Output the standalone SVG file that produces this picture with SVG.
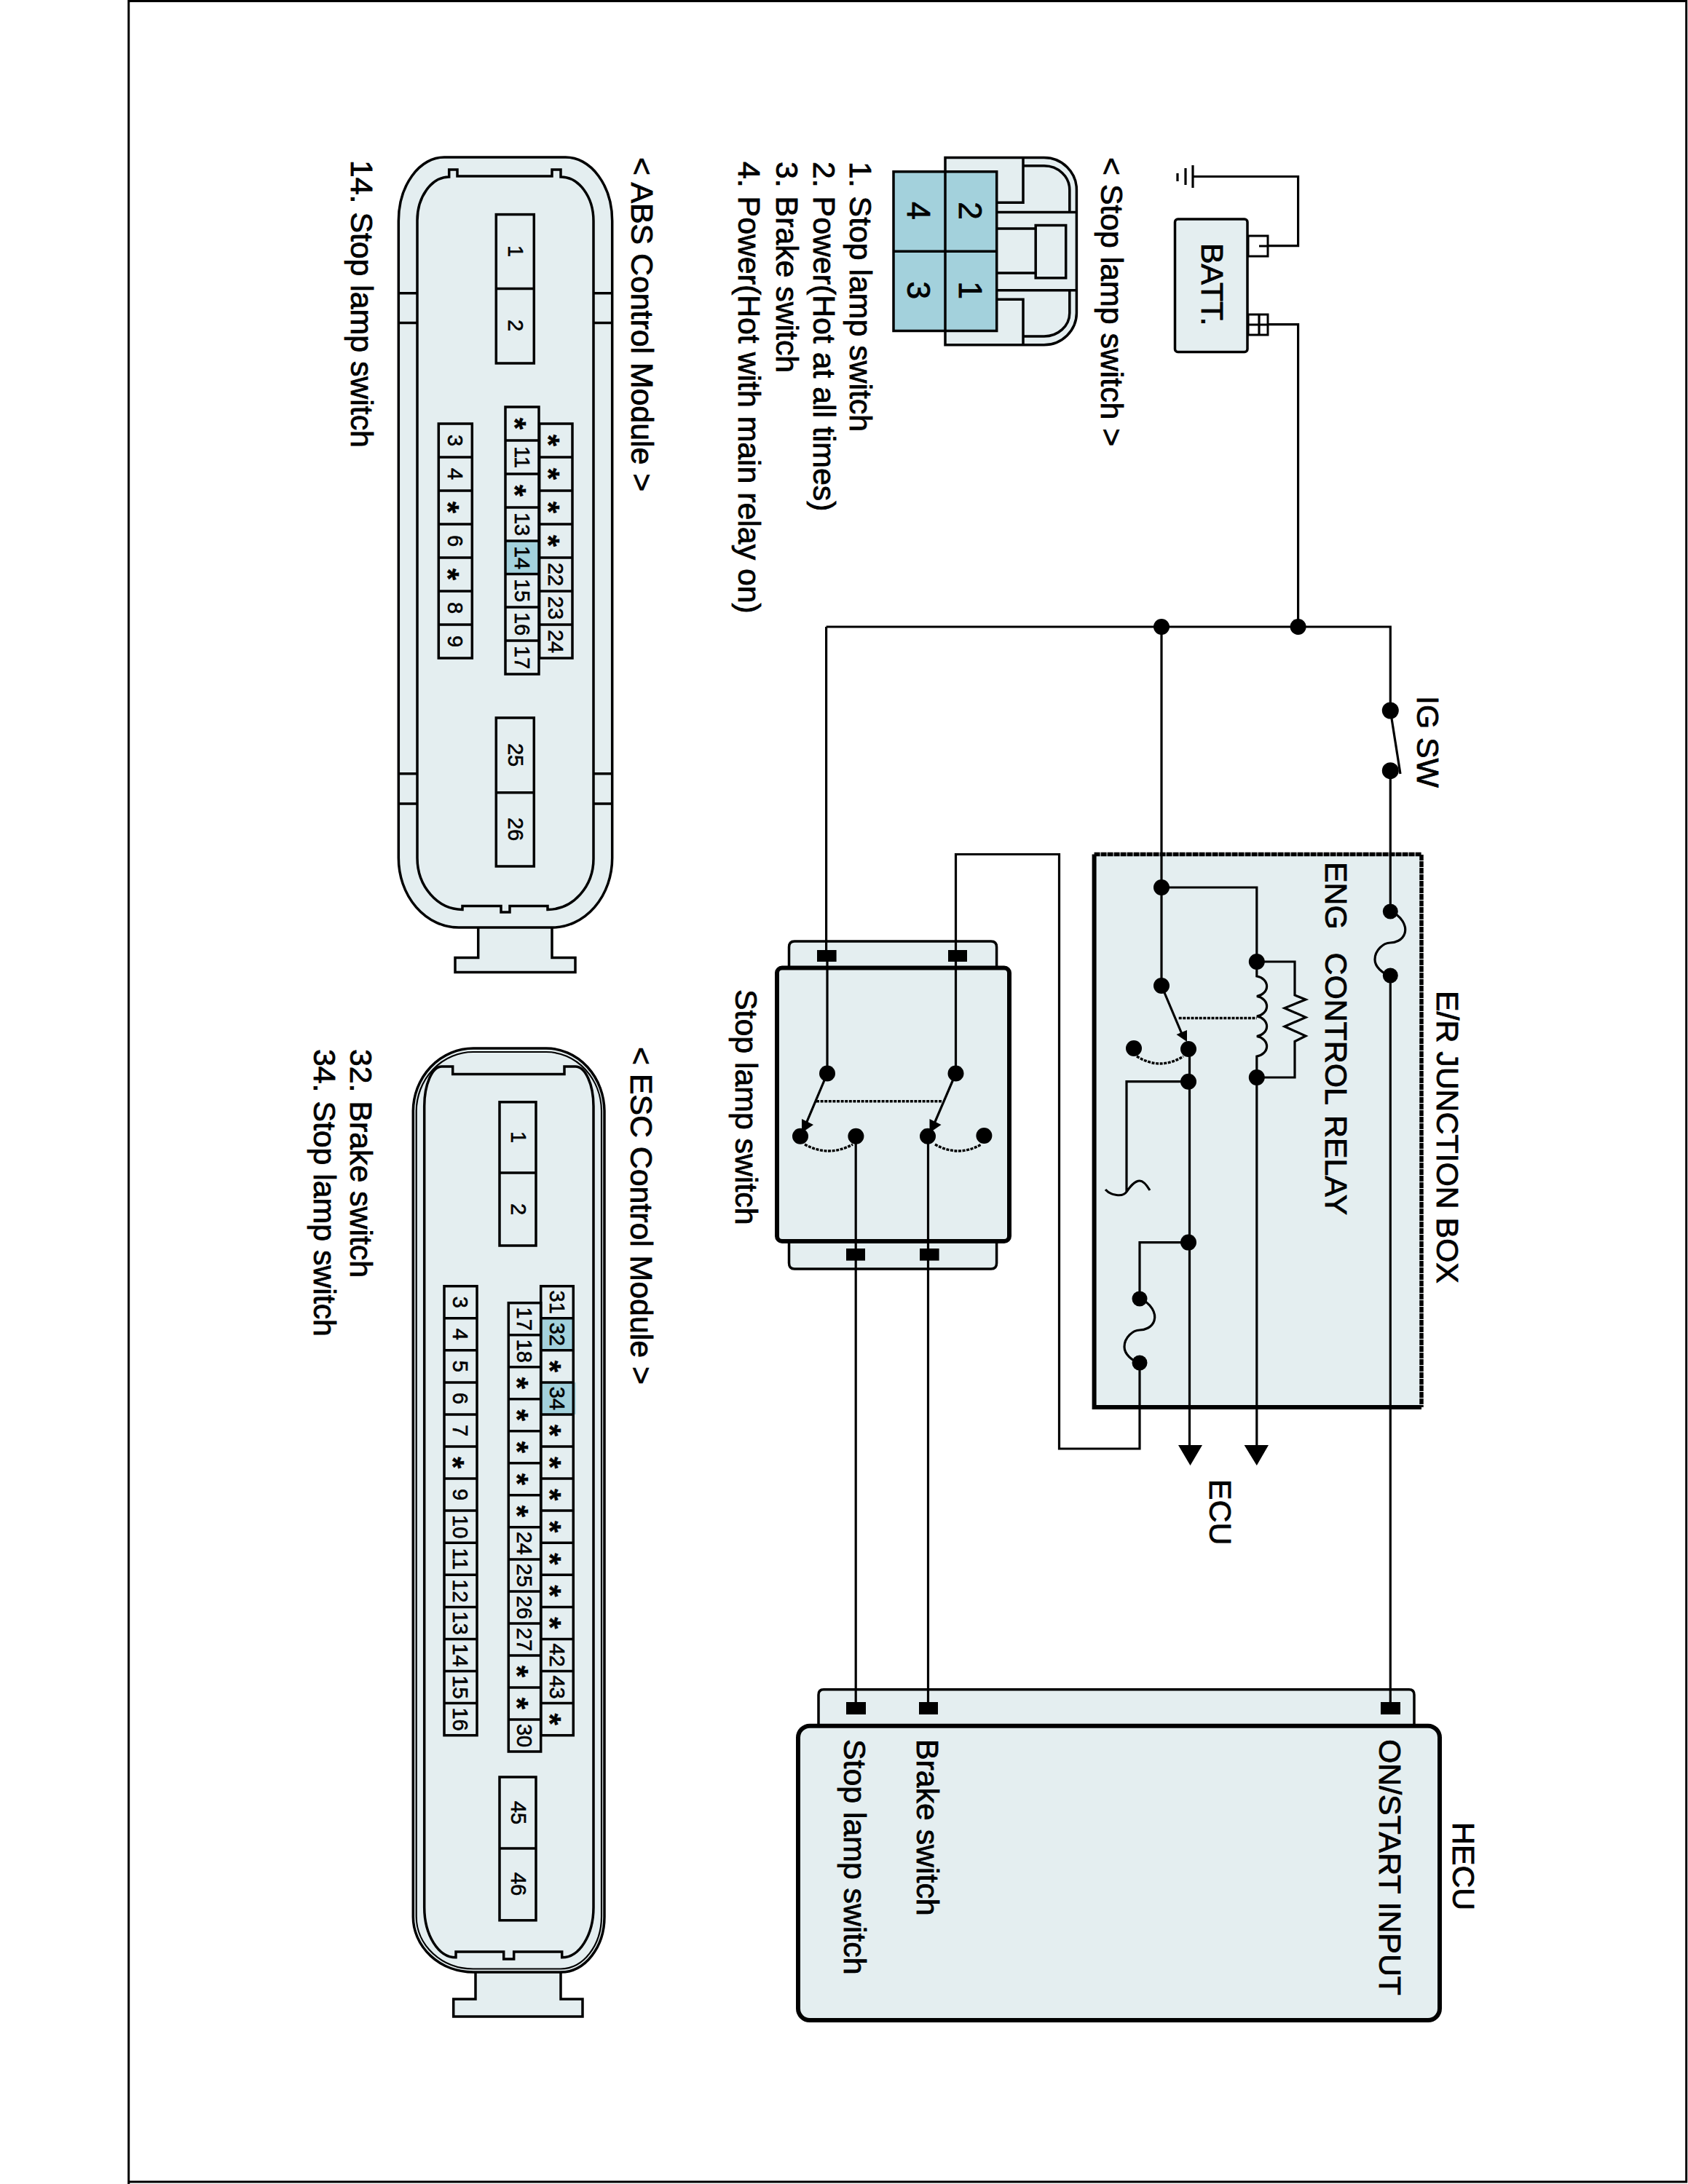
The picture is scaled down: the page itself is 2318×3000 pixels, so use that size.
<svg xmlns="http://www.w3.org/2000/svg" width="2318" height="3000" viewBox="0 0 2318 3000">
<style>
text{font-family:"Liberation Sans",Arial,sans-serif;fill:#000;stroke:#000}
.l{font-size:42.8px;stroke-width:.8px}
.c{font-size:29px;text-anchor:middle;stroke-width:.6px}
.s{font-size:42px;font-weight:bold;text-anchor:middle;stroke-width:.4px}
.b{font-size:44px;text-anchor:middle;stroke-width:.8px}
.f{fill:#e4eef0;stroke:#000;stroke-width:3.5}
.k{fill:none;stroke:#000;stroke-width:3.5}
.t{fill:none;stroke:#000;stroke-width:2.2}
.w{fill:none;stroke:#000;stroke-width:3.2}
.d{fill:none;stroke:#000;stroke-width:3.4;stroke-dasharray:4 1.6}
.h{fill:#a3d1dc}
.n{fill:#000}
</style>
<rect width="2318" height="3000" fill="#fff"/>
<path id="page-border" d="M176.700 3000V1.500H2315.700V2997H176.700" fill="none" stroke="#000" stroke-width="3"/>
<g id="battery">
<rect class="f" x="1613.5" y="301" width="99.5" height="182.5" rx="4"/>
<rect x="1714" y="324" width="27" height="28" fill="#fff" stroke="#000" stroke-width="3"/>
<rect x="1714" y="432" width="27" height="28" fill="#fff" stroke="#000" stroke-width="3"/>
<path class="w" d="M1729 338H1740M1714 446H1741M1729 432V460"/>
<text class="l" transform="translate(1650,334) rotate(90)">BATT.</text>
</g>
<g id="ground"><path class="w" d="M1638 227V258M1628 231V254M1617 238V249"/></g>
<g id="stop-lamp-connector">
<path class="f" d="M1298 216.6H1433.7A44.7 44 0 0 1 1478.4 260.6V430A44.7 44 0 0 1 1433.7 473.7H1298Z"/>
<path class="k" d="M1405 227.8H1433.7A35 33 0 0 1 1468.8 261V291.6M1468.8 398.7V430A35 32 0 0 1 1433.7 462H1405M1405 216.6V278.2H1368.7M1405 473.7V411.2H1368.7M1368.7 291.6H1478.4M1368.7 398.7H1478.4M1368.7 314H1422.2M1368.7 375H1422.2"/>
<rect class="k" x="1422.2" y="309.5" width="41.5" height="72.3"/>
<rect class="h" x="1227" y="235.8" width="141.7" height="218.7" stroke="#000" stroke-width="3.5"/>
<path class="k" d="M1298 235.8V454.5M1227 345.2H1368.7"/>
<text class="b" transform="translate(1317,289.5) rotate(90)">2</text>
<text class="b" transform="translate(1317,398.7) rotate(90)">1</text>
<text class="b" transform="translate(1246,289.5) rotate(90)">4</text>
<text class="b" transform="translate(1246,398.7) rotate(90)">3</text>
<text class="l" transform="translate(1512,216) rotate(90)">&lt; Stop lamp switch &gt;</text>
<text class="l" transform="translate(1167,222) rotate(90)">1. Stop lamp switch</text>
<text class="l" transform="translate(1116.7,222) rotate(90)">2. Power(Hot at all times)</text>
<text class="l" transform="translate(1065.7,222) rotate(90)">3. Brake switch</text>
<text class="l" transform="translate(1014,222) rotate(90)">4. Power(Hot with main relay on)</text>
</g>
<g id="abs-connector">
<path class="f" d="M656.7 1272V1315.6H625V1335.5H790V1315.6H758V1272Z"/>
<path class="f" d="M547.3 303.6A62.7 87.6 0 0 1 610 216H776.7A64 87.6 0 0 1 840.7 303.6V1178.6A82.7 95.4 0 0 1 758 1274H630A82.7 95.4 0 0 1 547.3 1178.6Z"/>
<path class="k" d="M573 303.6A44 60 0 0 1 616.7 243V233H628V242H758V233H770V243A45 60.6 0 0 1 815 303.6V1178.6A63 70 0 0 1 752 1249.4V1244.4H700V1253H688V1244.4H635V1249.4A62 71 0 0 1 573 1178.6Z"/>
<path class="k" d="M547.3 402.8H573M547.3 443.5H573M815 402.8H840.7M815 443.5H840.7M547.3 1062.7H573M547.3 1104H573M815 1062.7H840.7M815 1104H840.7"/>
<rect class="k" x="681.3" y="294.6" width="52" height="204.4"/>
<rect class="k" x="681.3" y="986" width="52" height="204"/>
<rect class="k" x="602.3" y="582" width="46" height="322"/>
<rect class="k" x="740.7" y="582" width="45.3" height="322"/>
<rect class="h" x="694" y="743" width="46" height="45.5"/>
<rect class="k" x="694" y="559" width="46" height="367"/>
<path class="k" d="M681.3 396.4H733.3M681.3 1088.7H733.3M602.3 628H648.3M602.3 674H648.3M602.3 720H648.3M602.3 766H648.3M602.3 812H648.3M602.3 858H648.3M740.7 628H786M740.7 674H786M740.7 720H786M740.7 766H786M740.7 812H786M740.7 858H786M694 605H740M694 651H740M694 697H740M694 743H740M694 788.5H740M694 834H740M694 880H740"/>
<text class="c" transform="translate(698,345) rotate(90)">1</text>
<text class="c" transform="translate(698,447) rotate(90)">2</text>
<text class="c" transform="translate(698,1037) rotate(90)">25</text>
<text class="c" transform="translate(698,1139) rotate(90)">26</text>
<text class="c" transform="translate(615,605) rotate(90)">3</text>
<text class="c" transform="translate(615,651) rotate(90)">4</text>
<text class="s" transform="translate(601,697) rotate(90)">*</text>
<text class="c" transform="translate(615,743) rotate(90)">6</text>
<text class="s" transform="translate(601,789) rotate(90)">*</text>
<text class="c" transform="translate(615,835) rotate(90)">8</text>
<text class="c" transform="translate(615,881) rotate(90)">9</text>
<text class="s" transform="translate(693,582) rotate(90)">*</text>
<text class="c" transform="translate(706.5,628) rotate(90)">11</text>
<text class="s" transform="translate(693,674) rotate(90)">*</text>
<text class="c" transform="translate(706.5,720) rotate(90)">13</text>
<text class="c" transform="translate(706.5,766) rotate(90)">14</text>
<text class="c" transform="translate(706.5,811) rotate(90)">15</text>
<text class="c" transform="translate(706.5,857) rotate(90)">16</text>
<text class="c" transform="translate(706.5,903) rotate(90)">17</text>
<text class="s" transform="translate(739,605) rotate(90)">*</text>
<text class="s" transform="translate(739,651) rotate(90)">*</text>
<text class="s" transform="translate(739,697) rotate(90)">*</text>
<text class="s" transform="translate(739,743) rotate(90)">*</text>
<text class="c" transform="translate(752.5,789) rotate(90)">22</text>
<text class="c" transform="translate(752.5,835) rotate(90)">23</text>
<text class="c" transform="translate(752.5,881) rotate(90)">24</text>
<text class="l" transform="translate(866.7,216) rotate(90)">&lt; ABS Control Module &gt;</text>
<text class="l" transform="translate(481.7,220) rotate(90)">14. Stop lamp switch</text>
</g>
<g id="esc-connector">
<path class="f" d="M653 2706V2746H622.7V2770H800V2746H770V2706Z"/>
<path class="f" d="M567.3 1527A82.7 87 0 0 1 650 1440H750A80 87 0 0 1 830 1527V2632.6A60 76 0 0 1 770 2709H650A82.7 76 0 0 1 567.3 2632.6Z"/>
<path class="t" d="M571.7 1527A78 82 0 0 1 650 1445H750A76 82 0 0 1 826 1527V2632.6A56 72 0 0 1 770 2704.5H650A78 72 0 0 1 571.7 2632.6Z"/>
<path class="k" d="M582.7 1519.5A24 54.5 0 0 1 606.7 1465H621.7V1475.5H775V1465H790A25 54.5 0 0 1 815 1519.5V2620A43 69 0 0 1 771.7 2688.8V2681H705.7V2691H691.7V2681H626V2688.8A43 69 0 0 1 582.7 2620Z"/>
<rect class="k" x="686" y="1513.8" width="50" height="197.2"/>
<rect class="k" x="686" y="2441" width="50" height="196.8"/>
<rect class="h" x="742.7" y="1810.8" width="44.6" height="44"/>
<rect class="h" x="742.7" y="1898.9" width="48" height="44"/>
<rect class="k" x="610" y="1766.7" width="45" height="617"/>
<rect class="k" x="698.3" y="1789.7" width="44.4" height="616.3"/>
<rect class="k" x="742.7" y="1766.7" width="44.6" height="617"/>
<path class="k" d="M686 1611H736M686 2539H736M610 1810.8H655M610 1854.8H655M610 1898.9H655M610 1942.9H655M610 1987H655M610 2031H655M610 2075.1H655M610 2119.2H655M610 2163.3H655M610 2207.4H655M610 2251.5H655M610 2295.6H655M610 2339.6H655M742.7 1810.8H787.3M742.7 1854.8H787.3M742.7 1898.9H787.3M742.7 1942.9H787.3M742.7 1987H787.3M742.7 2031H787.3M742.7 2075.1H787.3M742.7 2119.2H787.3M742.7 2163.3H787.3M742.7 2207.4H787.3M742.7 2251.5H787.3M742.7 2295.6H787.3M742.7 2339.6H787.3M698.3 1833.7H742.7M698.3 1877.7H742.7M698.3 1921.8H742.7M698.3 1965.8H742.7M698.3 2009.8H742.7M698.3 2053.8H742.7M698.3 2097.8H742.7M698.3 2141.9H742.7M698.3 2185.9H742.7M698.3 2229.9H742.7M698.3 2273.9H742.7M698.3 2317.9H742.7M698.3 2361.9H742.7"/>
<text class="c" transform="translate(702,1562) rotate(90)">1</text>
<text class="c" transform="translate(702,1661) rotate(90)">2</text>
<text class="c" transform="translate(702,2490) rotate(90)">45</text>
<text class="c" transform="translate(702,2588) rotate(90)">46</text>
<text class="c" transform="translate(622,1788.7) rotate(90)">3</text>
<text class="c" transform="translate(622,1832.8) rotate(90)">4</text>
<text class="c" transform="translate(622,1876.9) rotate(90)">5</text>
<text class="c" transform="translate(622,1920.9) rotate(90)">6</text>
<text class="c" transform="translate(622,1965) rotate(90)">7</text>
<text class="s" transform="translate(608,2009.1) rotate(90)">*</text>
<text class="c" transform="translate(622,2053.1) rotate(90)">9</text>
<text class="c" transform="translate(622,2097.2) rotate(90)">10</text>
<text class="c" transform="translate(622,2141.3) rotate(90)">11</text>
<text class="c" transform="translate(622,2185.3) rotate(90)">12</text>
<text class="c" transform="translate(622,2229.4) rotate(90)">13</text>
<text class="c" transform="translate(622,2273.5) rotate(90)">14</text>
<text class="c" transform="translate(622,2317.5) rotate(90)">15</text>
<text class="c" transform="translate(622,2361.6) rotate(90)">16</text>
<text class="c" transform="translate(710,1811.7) rotate(90)">17</text>
<text class="c" transform="translate(710,1855.7) rotate(90)">18</text>
<text class="s" transform="translate(696,1899.8) rotate(90)">*</text>
<text class="s" transform="translate(696,1943.8) rotate(90)">*</text>
<text class="s" transform="translate(696,1987.8) rotate(90)">*</text>
<text class="s" transform="translate(696,2031.8) rotate(90)">*</text>
<text class="s" transform="translate(696,2075.8) rotate(90)">*</text>
<text class="c" transform="translate(710,2119.8) rotate(90)">24</text>
<text class="c" transform="translate(710,2163.9) rotate(90)">25</text>
<text class="c" transform="translate(710,2207.9) rotate(90)">26</text>
<text class="c" transform="translate(710,2251.9) rotate(90)">27</text>
<text class="s" transform="translate(696,2295.9) rotate(90)">*</text>
<text class="s" transform="translate(696,2339.9) rotate(90)">*</text>
<text class="c" transform="translate(710,2384) rotate(90)">30</text>
<text class="c" transform="translate(754.5,1788.7) rotate(90)">31</text>
<text class="c" transform="translate(754.5,1832.8) rotate(90)">32</text>
<text class="s" transform="translate(741,1876.9) rotate(90)">*</text>
<text class="c" transform="translate(754.5,1920.9) rotate(90)">34</text>
<text class="s" transform="translate(741,1965) rotate(90)">*</text>
<text class="s" transform="translate(741,2009.1) rotate(90)">*</text>
<text class="s" transform="translate(741,2053.1) rotate(90)">*</text>
<text class="s" transform="translate(741,2097.2) rotate(90)">*</text>
<text class="s" transform="translate(741,2141.3) rotate(90)">*</text>
<text class="s" transform="translate(741,2185.3) rotate(90)">*</text>
<text class="s" transform="translate(741,2229.4) rotate(90)">*</text>
<text class="c" transform="translate(754.5,2273.5) rotate(90)">42</text>
<text class="c" transform="translate(754.5,2317.5) rotate(90)">43</text>
<text class="s" transform="translate(741,2361.6) rotate(90)">*</text>
<text class="l" transform="translate(866,1438) rotate(90)">&lt; ESC Control Module &gt;</text>
<text class="l" transform="translate(481,1441) rotate(90)">32. Brake switch</text>
<text class="l" transform="translate(430.7,1441) rotate(90)">34. Stop lamp switch</text>
</g>
<g id="junction-box">
<rect x="1502.6" y="1173.5" width="449.4" height="759.5" fill="#e4eef0"/>
<path fill="none" stroke="#000" stroke-width="6" d="M1952 1933H1502.6V1173.5"/>
<path fill="none" stroke="#000" stroke-width="5.500" stroke-dasharray="8 1" d="M1502.6 1173.5H1952V1933"/>
<text class="l" transform="translate(1972.6,1361) rotate(90)">E/R JUNCTION BOX</text>
<text class="l" transform="translate(1819.6,1184) rotate(90)" xml:space="preserve" word-spacing="4">ENG  CONTROL RELAY</text>
</g>
<g id="stop-lamp-switch">
<path class="f" d="M1083.5 1335V1301Q1083.5 1293 1091 1293H1361Q1368.6 1293 1368.6 1301V1335ZM1083.5 1700V1735Q1083.5 1743 1091 1743H1361Q1368.6 1743 1368.6 1735V1700Z" stroke-width="3"/>
<rect x="1067" y="1329.6" width="319" height="375.4" rx="7" fill="#e4eef0" stroke="#000" stroke-width="6"/>
<rect class="n" x="1122" y="1305" width="26.6" height="16"/>
<rect class="n" x="1302" y="1305" width="26" height="16"/>
<rect class="n" x="1162" y="1715" width="26" height="16.6"/>
<rect class="n" x="1263" y="1715" width="26.6" height="16.6"/>
<text class="l" transform="translate(1009.6,1359) rotate(90)">Stop lamp switch</text>
</g>
<g id="hecu">
<path class="f" d="M1124 2375V2328Q1124 2320.7 1131 2320.7H1935Q1942 2320.7 1942 2328V2375Z" stroke-width="3"/>
<rect x="1096" y="2370.7" width="881" height="404.3" rx="16" fill="#e4eef0" stroke="#000" stroke-width="6"/>
<rect class="n" x="1162" y="2338" width="27" height="17"/>
<rect class="n" x="1262" y="2338" width="26" height="17"/>
<rect class="n" x="1896" y="2338" width="27" height="17"/>
<text class="l" transform="translate(1995,2503) rotate(90)">HECU</text>
<text class="l" transform="translate(1893.7,2389) rotate(90)">ON/START INPUT</text>
<text class="l" transform="translate(1259,2389) rotate(90)">Brake switch</text>
<text class="l" transform="translate(1159,2389) rotate(90)">Stop lamp switch</text>
</g>
<g id="labels">
<text class="l" transform="translate(1660.5,2032) rotate(90)">ECU</text>
<text class="l" transform="translate(1946,956) rotate(90)">IG SW</text>
</g>
<g id="connectors">
<path class="w" d="M1638 242.5H1782.6V337.6H1741M1741 445.6H1782.6V861"/>
<path class="w" stroke-width="3.500" d="M1134.6 861H1909.3V976M1909.3 1059V1252M1909.3 1340V2345"/>
<path class="w" d="M1923 1063L1909.3 976"/>
<path class="w" d="M1909.3 1252C1925 1258 1932 1272 1929 1282C1926 1292 1915 1295 1909 1295C1900 1295 1888 1305 1888 1318C1888 1328 1898 1337 1909 1340"/>
<path class="w" d="M1134.6 861V1321M1136 1321V1474.5M1312.5 1321V1173.5H1454.5V1990H1565V1872M1312.5 1321V1474.5"/>
<path class="w" d="M1136 1474.5L1105 1548M1312.5 1474.5L1281 1548"/>
<path class="n" d="M1101 1556V1537L1117 1545ZM1276.5 1556V1537L1292.5 1545Z"/>
<path class="w" d="M1175.2 1561V2345M1274.5 1561V2345"/>
<path class="w" d="M1595 861V1354M1595 1219H1725.8V1341A17 14 0 0 1 1725.8 1368.5A17 14 0 0 1 1725.8 1396A17 14 0 0 1 1725.8 1423.5A17 14 0 0 1 1725.8 1451V1990"/>
<path class="w" d="M1725.8 1321H1778V1367L1793 1373L1764 1384.7L1793 1397.4L1764 1410L1793 1423L1778 1430.6V1480H1725.8"/>
<path class="d" d="M1618.7 1398.5H1725.8"/>
<path class="w" d="M1595 1354L1625 1425"/>
<path class="n" d="M1630 1431L1615.5 1421L1630 1415Z"/>
<path class="w" d="M1633.5 1441V1990M1632 1485.7H1547V1637C1542 1645 1525 1642 1518 1634M1547 1637C1552 1630 1558 1622 1565 1622C1570 1622 1576 1630 1579 1635M1632 1706.6H1565V1784"/>
<path class="w" d="M1565 1784C1581 1790 1588 1804 1585 1814C1582 1824 1571 1827 1565 1827C1556 1827 1544 1837 1544 1850C1544 1860 1554 1869 1565 1872"/>
<path class="d" d="M1561 1451Q1593 1471 1625 1451M1105 1572Q1138 1590 1171 1572M1284 1572Q1316 1590 1347.6 1572M1121 1512.7H1294.7"/>
<path class="n" d="M1618 1985H1651L1634.5 2013ZM1708.6 1985H1742L1725.8 2013Z"/>
<g class="n">
<circle cx="1595" cy="861" r="11"/><circle cx="1782.6" cy="861" r="11"/>
<circle cx="1909.3" cy="976" r="11.5"/><circle cx="1909.3" cy="1058.7" r="11.5"/>
<circle cx="1909.3" cy="1252" r="10.5"/><circle cx="1909.3" cy="1340" r="10.5"/>
<circle cx="1595" cy="1219" r="11"/><circle cx="1595" cy="1354" r="11"/>
<circle cx="1725.8" cy="1321" r="11"/><circle cx="1725.8" cy="1480" r="11"/>
<circle cx="1632" cy="1441" r="11"/><circle cx="1557" cy="1440" r="11"/>
<circle cx="1632" cy="1485.7" r="11"/><circle cx="1632" cy="1706.6" r="11"/>
<circle cx="1565" cy="1784" r="10.5"/><circle cx="1565" cy="1872" r="10.5"/>
<circle cx="1136" cy="1474.5" r="11"/><circle cx="1312.5" cy="1474.5" r="11"/>
<circle cx="1099" cy="1560.7" r="11"/><circle cx="1175.4" cy="1560.7" r="11"/>
<circle cx="1274" cy="1560.7" r="11"/><circle cx="1351.4" cy="1560" r="11"/>
</g>
</g>
</svg>
